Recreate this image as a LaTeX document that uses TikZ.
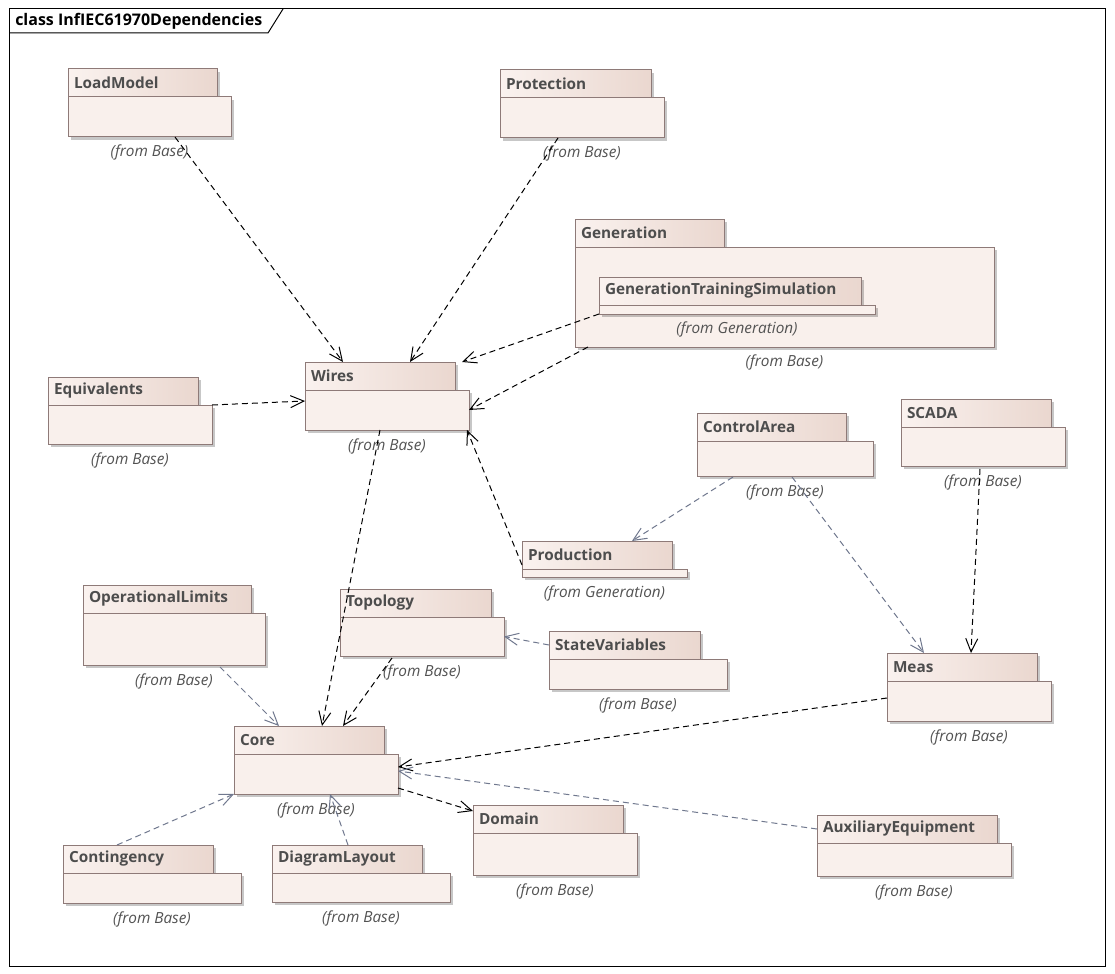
\documentclass[tikz,border=0pt]{standalone}
\usepackage{fontspec}
\setmainfont{Open Sans}
\usetikzlibrary{positioning,shadows,arrows.meta,calc}

\definecolor{pkgline}{RGB}{142,122,120}
\definecolor{pkgfill}{RGB}{249,240,236}
\definecolor{tableft}{RGB}{250,242,239}
\definecolor{tabright}{RGB}{234,215,207}
\definecolor{deplight}{RGB}{112,120,142}
\definecolor{pkgtext}{RGB}{77,77,77}

% package: name, title, x, y (top left of tab), tab width, body width, body height, owner
\newcommand\pkgbox[8]{%
  \node[pkgtab, text width={#5*0.75pt-9pt}, anchor=north west] (#1-tab) at (#3,#4) {#2};
  \node[pkgbody, minimum width={#6*0.75pt}, minimum height={#7*0.75pt},
        anchor=north west] (#1) at (#1-tab.south west) {};
  \node[fromlbl, below=6pt of #1] (#1-from) {(from #8)};
}

\begin{document}
\begin{tikzpicture}[x=0.75pt, y=-0.75pt,
    pkgtab/.style = {draw=pkgline, line width=0.75pt, left color=tableft,
      right color=tabright, minimum height=21pt, inner xsep=4.5pt, inner ysep=0pt,
      outer sep=0pt, align=left, text=pkgtext,
      font=\fontsize{11.5pt}{13pt}\selectfont\bfseries,
      drop shadow={shadow xshift=2.25pt, shadow yshift=-2.25pt, fill=black, opacity=.22}},
    pkgbody/.style = {draw=pkgline, line width=0.75pt, fill=pkgfill, inner sep=0pt,
      outer sep=0pt,
      drop shadow={shadow xshift=2.25pt, shadow yshift=-2.25pt, fill=black, opacity=.22}},
    fromlbl/.style = {inner sep=0pt, text=black!68,
      font=\fontsize{11.5pt}{13pt}\selectfont\itshape},
    dep/.style = {draw=black, line width=0.75pt, dash pattern=on 4.5pt off 3pt,
      -{Straight Barb[length=10pt, width=9pt]}},
    depgray/.style = {dep, draw=deplight}]

  \fill[white] (0,0) rectangle (1115,974);
  \useasboundingbox (0,0) rectangle (1115,974);

  % frame
  \draw[line width=0.75pt] (9,9) rectangle (1105,966);
  \draw[line width=0.75pt] (9,33) -- (268,33) -- (283,9);
  \node[anchor=west, inner sep=0pt, font=\fontsize{12pt}{14pt}\selectfont\bfseries]
    (title) at (15,21) {class InfIEC61970Dependencies};

  % packages
  \pkgbox{loadmodel}{LoadModel}{68}{69}{149}{163}{40}{Base}
  \pkgbox{protection}{Protection}{500}{70}{151}{164}{40}{Base}
  \pkgbox{generation}{Generation}{575}{219}{149}{419}{100}{Base}
  \pkgbox{gts}{GenerationTrainingSimulation}{599}{277}{262}{276}{9}{Generation}
  \pkgbox{wires}{Wires}{305}{362}{150}{164}{40}{Base}
  \pkgbox{equivalents}{Equivalents}{48}{377}{150}{164}{39}{Base}
  \pkgbox{controlarea}{ControlArea}{697}{413}{149}{176}{35}{Base}
  \pkgbox{scada}{SCADA}{901}{399}{150}{164}{39}{Base}
  \pkgbox{production}{Production}{522}{541}{150}{165}{8}{Generation}
  \pkgbox{oplimits}{OperationalLimits}{83}{585}{168}{182}{52}{Base}
  \pkgbox{topology}{Topology}{340}{589}{151}{164}{39}{Base}
  \pkgbox{statevars}{StateVariables}{549}{631}{151}{178}{30}{Base}
  \pkgbox{meas}{Meas}{887}{653}{150}{164}{40}{Base}
  \pkgbox{core}{Core}{234}{726}{150}{164}{40}{Base}
  \pkgbox{domain}{Domain}{473}{805}{150}{164}{42}{Base}
  \pkgbox{auxequip}{AuxiliaryEquipment}{817}{815}{180}{194}{33}{Base}
  \pkgbox{contingency}{Contingency}{63}{845}{150}{178}{30}{Base}
  \pkgbox{diaglayout}{DiagramLayout}{272}{845}{150}{178}{29}{Base}

  % dependencies
  \draw[dep] ($(loadmodel.south west)+(107,0)$) -- ($(wires-tab.north west)+(38,0)$);
  \draw[dep] ($(protection.south west)+(58,0)$) -- ($(wires-tab.north west)+(105,0)$);
  \draw[dep] (gts.south west) -- ($(wires-tab.north east)+(7,0)$);
  \draw[dep] ($(generation.south west)+(13,0)$) -- ($(wires.north east)+(0,20)$);
  \draw[dep] (equivalents.north east) -- ($(wires.north west)+(0,11)$);
  \draw[dep] ($(production-tab.south west)+(0,-4)$) -- ($(wires.south east)+(-2,0)$);
  \draw[dep] ($(wires.south west)+(75,0)$) -- ($(core-tab.north west)+(88,0)$);
  \draw[dep] ($(topology.south west)+(52,2)$) -- ($(core-tab.north west)+(109,0)$);
  \draw[depgray] ($(oplimits.south west)+(137,2)$) -- ($(core-tab.north west)+(45,0)$);
  \draw[depgray] ($(controlarea.south west)+(36,1)$) -- ($(production-tab.north west)+(110,0)$);
  \draw[depgray] ($(controlarea.south west)+(95,1)$) -- ($(meas-tab.north west)+(37,0)$);
  \draw[dep] ($(scada.south west)+(79,3)$) -- ($(meas-tab.north west)+(84,0)$);
  \draw[depgray] (statevars-tab.west) -- (topology.east);
  \draw[dep] ($(meas.north west)+(0,17)$) -- ($(core.north east)+(0,13)$);
  \draw[depgray] (auxequip-tab.west) -- ($(core.north east)+(0,17)$);
  \draw[dep] ($(core.south east)+(0,-6)$) -- ($(domain-tab.north west)+(0,6)$);
  \draw[depgray] ($(contingency-tab.north west)+(54,0)$) -- (core.south west);
  \draw[depgray] ($(diaglayout-tab.north west)+(76,0)$) -- ($(core.south west)+(96,0)$);
\end{tikzpicture}
\end{document}
